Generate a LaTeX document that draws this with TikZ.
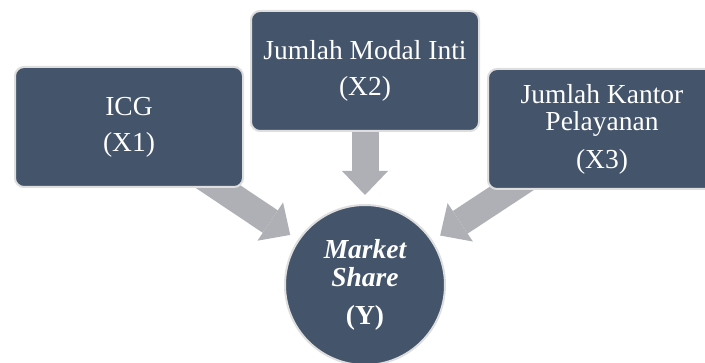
\documentclass[tikz,border=0pt]{standalone}
\usepackage{fontspec}
\setmainfont{Liberation Serif}
\usepackage{tikz}
\usetikzlibrary{arrows.meta,backgrounds,shapes}
\definecolor{boxblue}{HTML}{44546A}
\definecolor{rimgray}{HTML}{DEDEDE}
\definecolor{arrowgray}{HTML}{AEB0B5}

\begin{document}
\begin{tikzpicture}[x=1pt, y=-1pt,
box/.style={rectangle, rounded corners=9pt, draw=rimgray, line width=2pt, fill=boxblue, minimum width=228pt, minimum height=120pt, inner sep=0pt, align=center, text=white, font=\fontsize{27.5}{27}\selectfont},
target/.style={circle, draw=rimgray, line width=2pt, fill=boxblue, minimum size=160pt, inner sep=0pt, align=center, text=white, font=\fontsize{27.5}{28}\selectfont\bfseries},
bigarrow/.style={color=arrowgray, line width=27pt, shorten >=9pt, -{Triangle[length=24pt,width=46pt,line width=0pt,fill=arrowgray]}}]
\useasboundingbox (0,0) rectangle (705,363);
\node[box] (x1) at (129,127) {ICG\\[9pt](X1)};
\node[box] (x2) at (365,71) {Jumlah Modal Inti\\[9pt](X2)};
\node[box] (x3) at (602,129) {Jumlah Kantor\\Pelayanan\\[11pt](X3)};
\node[target] (y) at (365,285) {\itshape Market\\\itshape Share\\[10pt](Y)};
\begin{pgfonlayer}{background}
\path[bigarrow]
(x1.center) edge (y)
(x2.center) edge (y)
(x3.center) edge (y);
\end{pgfonlayer}
\end{tikzpicture}
\end{document}
